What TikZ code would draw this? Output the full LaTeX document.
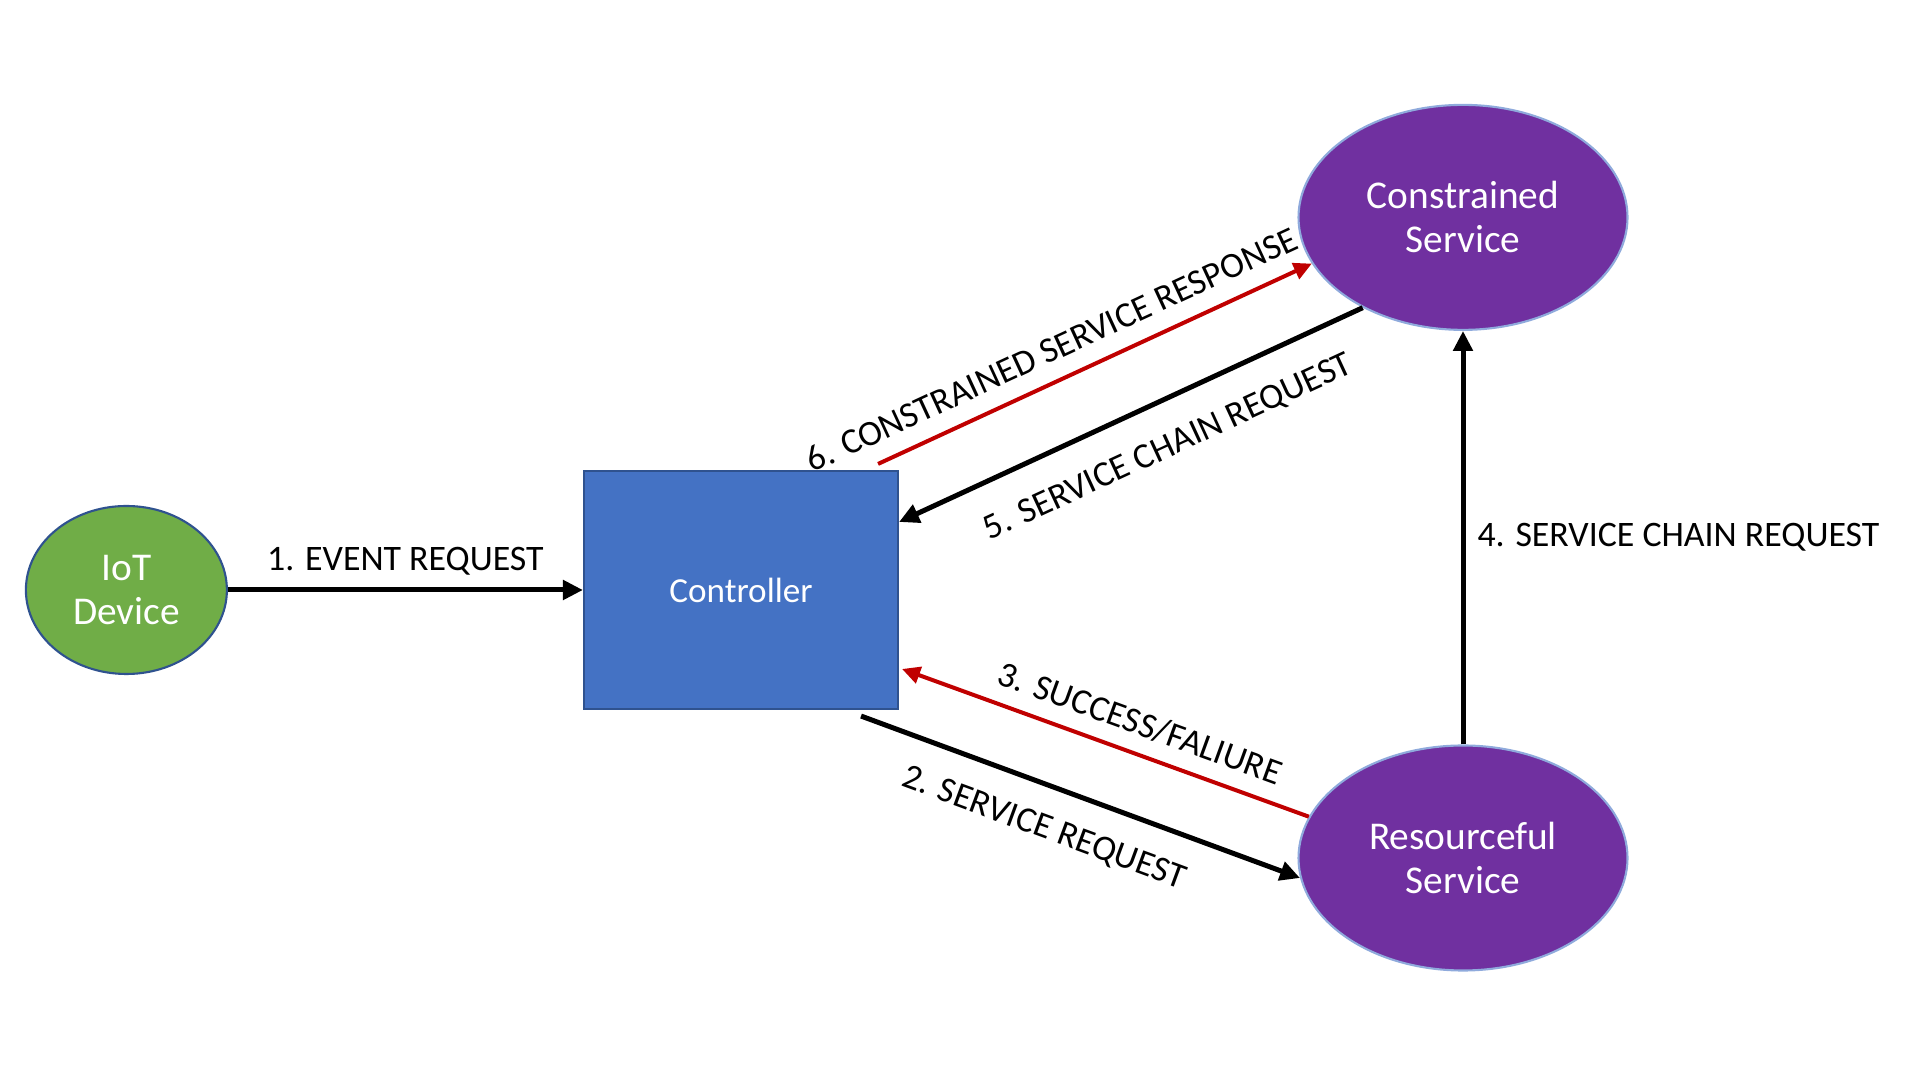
\documentclass[tikz,border=0pt]{standalone}
\usepackage{fontspec}
\setmainfont{Carlito}
\usetikzlibrary{shapes.geometric, arrows.meta, positioning, calc}
\definecolor{leafgreen}{RGB}{112, 173, 71}
\definecolor{boxblue}{RGB}{68, 114, 196}
\definecolor{edgeblue}{RGB}{47, 82, 143}
\definecolor{servpurple}{RGB}{112, 48, 160}
\definecolor{rimblue}{RGB}{143, 170, 220}
\definecolor{replyred}{RGB}{192, 0, 0}

\begin{document}
\begin{tikzpicture}[
            device/.style={ellipse, draw=edgeblue, line width=0.6pt, fill=leafgreen, minimum width=2.01cm, minimum height=1.68cm, inner sep=0pt, align=center, text=white, font=\fontsize{11.2}{12.5}\selectfont},
            service/.style={ellipse, draw=rimblue, line width=0.6pt, fill=servpurple, minimum width=3.29cm, minimum height=2.25cm, inner sep=0pt, align=center, text=white, font=\fontsize{11.2}{12.5}\selectfont},
            ctrlbox/.style={rectangle, draw=edgeblue, line width=0.6pt, fill=boxblue, minimum width=3.14cm, minimum height=2.38cm, text=white, font=\fontsize{10}{12}\selectfont},
            msg/.style={-{Triangle[length=2mm, width=1.9mm]}, line width=0.5mm, black},
            reply/.style={-{Triangle[length=1.8mm, width=1.7mm]}, line width=0.4mm, replyred},
            lbl/.style={font=\fontsize{10.2}{12}\selectfont, inner sep=0pt, text=black}
        ]
            \useasboundingbox (0,0) rectangle (19.2,10.8);

            \node[ctrlbox] (ctrl) at (7.41,4.90) {Controller};
            \node[device, left=3.55cm of ctrl] (iot) {IoT\\Device};
            \node[service] (res) at (14.63,2.22) {Resourceful\\Service};
            \node[service, above=4.135cm of res] (cons) {Constrained\\Service};

            \draw[msg] (iot) -- node[lbl, above=1.2mm] {1. EVENT REQUEST} (ctrl);
            \draw[msg] ([xshift=-3.8mm, yshift=-0.6mm]ctrl.south east) -- node[lbl, sloped, below=2.6mm, pos=0.45] {2. SERVICE REQUEST} (res.187);
            \draw[reply] (res.165) -- node[lbl, sloped, above=1.5mm, pos=0.44] {3. SUCCESS/FALIURE} ([xshift=0.3mm, yshift=-7.9mm]ctrl.east);
            \draw[msg] (res) -- node[lbl, right=1.2mm] {4. SERVICE CHAIN REQUEST} (cons);
            \draw[msg] (cons.222) -- node[lbl, sloped, below=2.9mm, pos=0.46] {5. SERVICE CHAIN REQUEST} ([yshift=6.8mm]ctrl.east);
            \draw[reply] ([xshift=-2.1mm, yshift=0.6mm]ctrl.north east) -- node[lbl, sloped, above=1.7mm, pos=0.43] {6. CONSTRAINED SERVICE RESPONSE} (cons.197);
        \end{tikzpicture}
\end{document}
